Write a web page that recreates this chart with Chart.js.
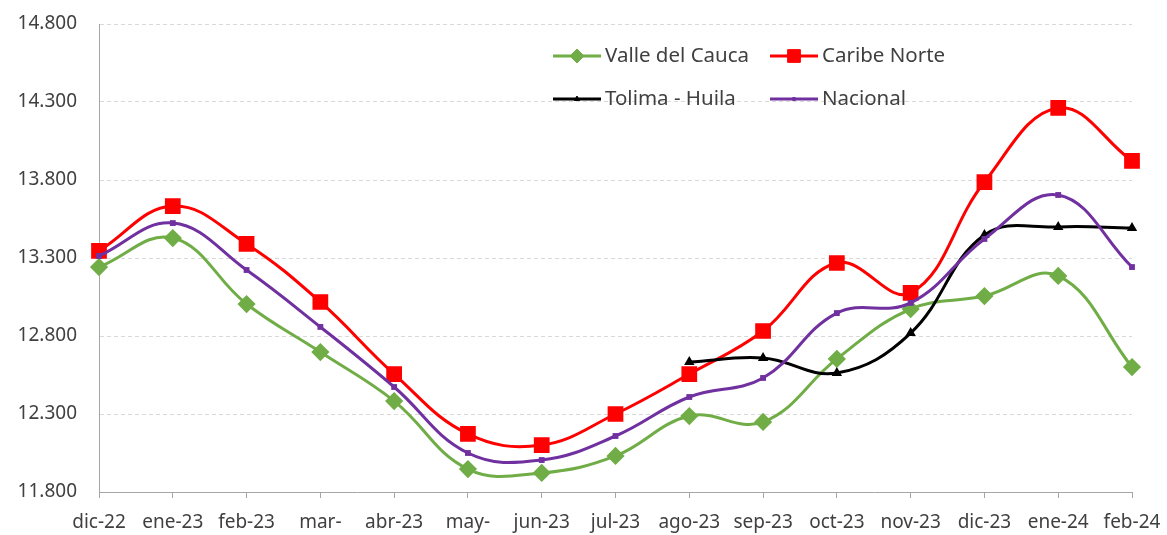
<!DOCTYPE html>
<html>
<head>
<meta charset="utf-8">
<script src="https://cdn.jsdelivr.net/npm/chart.js@4.4.1/dist/chart.umd.min.js"></script>
<style>
  html, body { margin: 0; padding: 0; background: #fff; }
  #wrap { width: 1167px; height: 535px; }
</style>
</head>
<body>
<div id="wrap"><canvas id="lineChart"></canvas></div>
<script>
// Datos
const meses = ['dic-22', 'ene-23', 'feb-23', 'mar-', 'abr-23', 'may-', 'jun-23', 'jul-23',
               'ago-23', 'sep-23', 'oct-23', 'nov-23', 'dic-23', 'ene-24', 'feb-24'];
const valleDelCauca = [13242, 13428, 13005, 12697, 12383, 11947, 11922, 12031,
                       12287, 12249, 12653, 12973, 13056, 13185, 12601];
const caribeNorte = [13345, 13633, 13390, 13018, 12556, 12172, 12101, 12300,
                     12556, 12832, 13268, 13076, 13787, 14262, 13922];
const tolimaHuila = [null, null, null, null, null, null, null, null,
                     12633, 12659, 12563, 12819, 13447, 13499, 13492];
const nacional = [13313, 13524, 13223, 12858, 12473, 12050, 12005, 12159,
                  12409, 12531, 12947, 13012, 13422, 13704, 13242];
const etiquetasY = ['11.800', '12.300', '12.800', '13.300', '13.800', '14.300', '14.800'];

const fuente = { family: "'Noto Sans', sans-serif", size: 19 };
const colorTexto = '#404040';

// Leyenda dibujada dentro del área del gráfico (dos filas, dos columnas)
const leyendaPlugin = {
    id: 'leyenda',
    afterDraw(chart) {
        const ctx = chart.ctx;
        const pos = [[0, 553, 56], [1, 770, 56], [2, 553, 99], [3, 770, 99]];
        pos.forEach(([i, x, y]) => {
            const ds = chart.data.datasets[i];
            ctx.save();
            ctx.strokeStyle = ds.borderColor;
            ctx.lineWidth = ds.borderWidth;
            ctx.beginPath();
            ctx.moveTo(x, y);
            ctx.lineTo(x + 48, y);
            ctx.stroke();
            ctx.fillStyle = ds.pointBackgroundColor;
            ctx.strokeStyle = ds.pointBorderColor;
            ctx.lineWidth = 1;
            Chart.helpers.drawPoint(ctx, { pointStyle: ds.pointStyle, radius: ds.pointRadius, borderWidth: 1 }, x + 24, y);
            ctx.fillStyle = colorTexto;
            ctx.font = "20.5px 'Noto Sans', sans-serif";
            ctx.textBaseline = 'middle';
            ctx.textAlign = 'left';
            ctx.fillText(ds.label, x + 52, y);
            ctx.restore();
        });
    }
};

const ctxLine = document.getElementById('lineChart').getContext('2d');

const lineChart = new Chart(ctxLine, {
    type: 'line',
    data: {
        labels: meses,
        datasets: [{
            label: 'Valle del Cauca',
            data: valleDelCauca,
            borderColor: '#70AD47',
            backgroundColor: '#70AD47',
            pointBackgroundColor: '#70AD47',
            pointBorderColor: '#70AD47',
            pointStyle: 'rectRot',
            pointRadius: 7,
            borderWidth: 3,
            order: 4
        }, {
            label: 'Caribe Norte',
            data: caribeNorte,
            borderColor: '#FF0000',
            backgroundColor: '#FF0000',
            pointBackgroundColor: '#FF0000',
            pointBorderColor: '#FF0000',
            pointStyle: 'rect',
            pointRadius: 9,
            borderWidth: 3,
            order: 3
        }, {
            label: 'Tolima - Huila',
            data: tolimaHuila,
            borderColor: '#000000',
            backgroundColor: '#000000',
            pointBackgroundColor: '#000000',
            pointBorderColor: '#000000',
            pointStyle: 'triangle',
            pointRadius: 3,
            borderWidth: 3,
            order: 2
        }, {
            label: 'Nacional',
            data: nacional,
            borderColor: '#7030A0',
            backgroundColor: '#7030A0',
            pointBackgroundColor: '#7030A0',
            pointBorderColor: '#7030A0',
            pointStyle: 'rect',
            pointRadius: 2,
            borderWidth: 3,
            order: 1
        }]
    },
    options: {
        responsive: true,
        maintainAspectRatio: false,
        animation: false,
        layout: { padding: { top: 24, right: 35, left: 0, bottom: 0 } },
        elements: { line: { tension: 0.4 } },
        scales: {
            x: {
                offset: false,
                grid: { drawOnChartArea: false, drawTicks: true, tickLength: 6, color: '#A6A6A6' },
                border: { display: true, color: '#A6A6A6', width: 1 },
                ticks: {
                    font: { family: fuente.family, size: 19, lineHeight: 2.1 },
                    color: colorTexto, autoSkip: false, maxRotation: 0, padding: 5
                },
                afterFit: function (scale) { scale.height = 43; }
            },
            y: {
                min: 11800,
                max: 14800,
                grid: { color: '#D9D9D9', drawTicks: true, tickLength: 20, tickColor: 'rgba(0,0,0,0)' },
                border: { display: true, color: '#A6A6A6', width: 1, dash: [4, 3] },
                ticks: {
                    stepSize: 500,
                    font: fuente,
                    color: colorTexto,
                    padding: 2,
                    callback: function (value, index) { return etiquetasY[index]; }
                },
                afterFit: function (scale) { scale.width = 99; }
            }
        },
        plugins: {
            legend: { display: false },
            tooltip: { enabled: false }
        }
    },
    plugins: [leyendaPlugin]
});
</script>
</body>
</html>
